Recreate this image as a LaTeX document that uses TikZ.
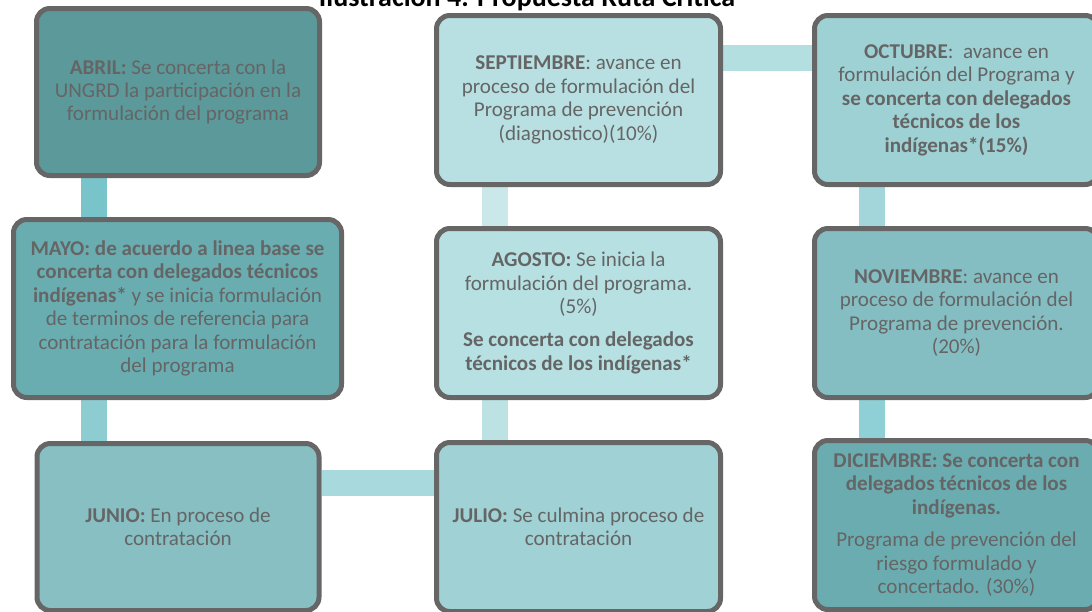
\documentclass[tikz,border=0pt]{standalone}
\usepackage{fontspec}
\setmainfont{Carlito}
\usepackage{xcolor}
\usetikzlibrary{backgrounds}

\definecolor{txtgray}{HTML}{656565}
\definecolor{edgegray}{HTML}{666666}
\definecolor{abrilfill}{HTML}{5B999A}
\definecolor{mayofill}{HTML}{6AADB1}
\definecolor{juniofill}{HTML}{87BFC3}
\definecolor{juliofill}{HTML}{A0D1D4}
\definecolor{agostofill}{HTML}{B6E0E2}
\definecolor{septfill}{HTML}{B8E0E2}
\definecolor{octfill}{HTML}{9ED1D4}
\definecolor{novfill}{HTML}{84BEC3}
\definecolor{dicfill}{HTML}{6BACB0}
\definecolor{linkA}{HTML}{79C4CA}
\definecolor{linkB}{HTML}{8DCDD2}
\definecolor{linkC}{HTML}{A8DADD}
\definecolor{linkD}{HTML}{BCE2E4}
\definecolor{linkE}{HTML}{CAE8EA}
\definecolor{linkF}{HTML}{B4DFE1}
\definecolor{linkG}{HTML}{A2D6DA}
\definecolor{linkH}{HTML}{8ED0D5}

\begin{document}
\begin{tikzpicture}[x=0.75pt, y=-0.75pt,
  every node/.style={font=\fontsize{15.8}{17.6}\selectfont, text=txtgray},
  month/.style={draw=edgegray, line width=3.75pt, rounded corners=10pt, align=center, minimum width=213pt, minimum height=126.75pt, inner sep=2pt},
  link/.style={line width=19.5pt}]
  \useasboundingbox (0,0) rectangle (1092,611);
  \clip (0,0) rectangle (1092,611);

  % title, cut at the top edge
  \node[anchor=base, text=black, font=\fontsize{21}{24}\selectfont\bfseries] (titulo) at (527,6) {Ilustración 4. Propuesta Ruta Crítica};

  \coordinate (lcol) at (94,0);
  \coordinate (mcol) at (495,0);
  \coordinate (rcol) at (872,0);
  \coordinate (trow) at (0,57.5);
  \coordinate (brow) at (0,482.5);

  % left column
  \node[month, fill=abrilfill, minimum width=212.25pt, minimum height=125.25pt] (abril) at (178,92) {\textbf{ABRIL:} Se concerta con la\\UNGRD la participación en la\\formulación del programa};
  \node[month, fill=mayofill, minimum width=246pt, minimum height=133.5pt] (mayo) at (177.5,308.5) {\textbf{MAYO: de acuerdo a linea base se}\\\textbf{concerta con delegados técnicos}\\\textbf{indígenas*} y se inicia formulación\\de terminos de referencia para\\contratación para la formulación\\del programa};
  \node[month, fill=juniofill, minimum width=211.5pt, minimum height=125.25pt] (junio) at (178,527) {\textbf{JUNIO:} En proceso de\\contratación};

  % middle column
  \node[month, fill=juliofill] (julio) at (578.5,527) {\textbf{JULIO:} Se culmina proceso de\\contratación};
  \node[month, fill=agostofill] (agosto) at (578.5,313) {\textbf{AGOSTO:} Se inicia la\\formulación del programa.\\(5\%)\\[7pt]\textbf{Se concerta con delegados}\\\textbf{técnicos de los indígenas*}};
  \node[month, fill=septfill] (septiembre) at (578.5,100) {\textbf{SEPTIEMBRE}: avance en\\proceso de formulación del\\Programa de prevención\\(diagnostico)(10\%)};

  % right column
  \node[month, fill=octfill] (octubre) at (956.5,100) {\textbf{OCTUBRE}:~ avance en\\formulación del Programa y\\\textbf{se concerta con delegados}\\\textbf{técnicos de los}\\\textbf{indígenas*(15\%)}};
  \node[month, fill=novfill] (noviembre) at (956.5,313) {\textbf{NOVIEMBRE}: avance en\\proceso de formulación del\\Programa de prevención.\\(20\%)};
  \node[month, fill=dicfill] (diciembre) at (956.5,525) {\textbf{DICIEMBRE: Se concerta con}\\\textbf{delegados técnicos de los}\\\textbf{indígenas.}\\[7pt]Programa de prevención del\\riesgo formulado y\\concertado. (30\%)};

  \begin{pgfonlayer}{background}
    \draw[link, draw=linkA] (abril.south -| lcol) -- (mayo.north -| lcol);
    \draw[link, draw=linkB] (mayo.south -| lcol) -- (junio.north -| lcol);
    \draw[link, draw=linkC] (junio.east |- brow) -- (julio.west |- brow);
    \draw[link, draw=linkD] (julio.north -| mcol) -- (agosto.south -| mcol);
    \draw[link, draw=linkE] (agosto.north -| mcol) -- (septiembre.south -| mcol);
    \draw[link, draw=linkF] (septiembre.east |- trow) -- (octubre.west |- trow);
    \draw[link, draw=linkG] (octubre.south -| rcol) -- (noviembre.north -| rcol);
    \draw[link, draw=linkH] (noviembre.south -| rcol) -- (diciembre.north -| rcol);
  \end{pgfonlayer}
\end{tikzpicture}
\end{document}
